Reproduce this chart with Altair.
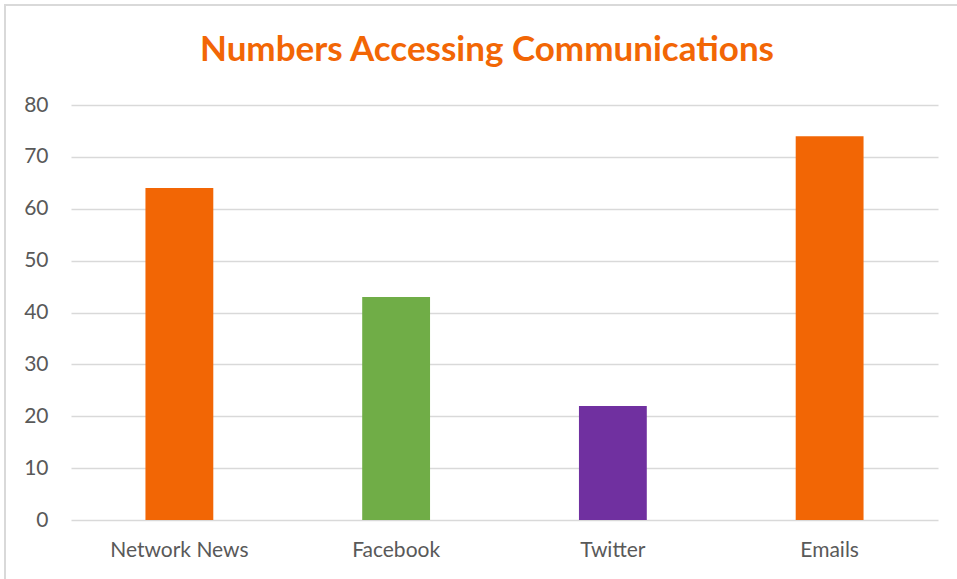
import altair as alt
import pandas as pd

categories = ["Network News", "Facebook", "Twitter", "Emails"]
values = [64, 43, 22, 74]
colors = ["#F26605", "#70AD47", "#7030A0", "#F26605"]
y_ticks = [0, 10, 20, 30, 40, 50, 60, 70, 80]
title_text = "Numbers Accessing Communications"

df = pd.DataFrame({"category": categories, "value": values, "color": colors})

FONT = "Lato"
TEXT = "#595959"

bars = alt.Chart(df).mark_bar().encode(
    x=alt.X("category:N", sort=categories, title=None,
            scale=alt.Scale(paddingInner=0.687, paddingOuter=0.3435),
            axis=alt.Axis(labelAngle=0, ticks=False, domain=False, grid=False,
                          labelFont=FONT, labelFontSize=21, labelColor=TEXT,
                          labelPadding=19)),
    y=alt.Y("value:Q", title=None,
            scale=alt.Scale(domain=[0, 80], nice=False),
            axis=alt.Axis(values=y_ticks, ticks=False, domain=False,
                          gridColor="#D9D9D9", gridWidth=1.5,
                          labelFont=FONT, labelFontSize=21, labelColor=TEXT,
                          labelPadding=23)),
    color=alt.Color("color:N", scale=None),
)

border = alt.Chart(df).mark_rect(fill=None, stroke="#D9D9D9", strokeWidth=2).encode(
    x=alt.value(-66), x2=alt.value(895), y=alt.value(-100), y2=alt.value(480)
)

title = alt.Chart(pd.DataFrame({"t": [title_text]})).mark_text(
    font=FONT, fontSize=35, fontWeight="bold", color="#F26605",
    align="center", baseline="alphabetic"
).encode(text="t:N", x=alt.value(416), y=alt.value(-44))

chart = alt.layer(border, bars, title).properties(
    width=867, height=415,
    autosize=alt.AutoSizeParams(type="none"),
    padding={"left": 71, "top": 105, "right": 19, "bottom": 59},
).configure_view(stroke=None)

chart.save("out.html", embed_options={"renderer": "svg", "actions": False})
